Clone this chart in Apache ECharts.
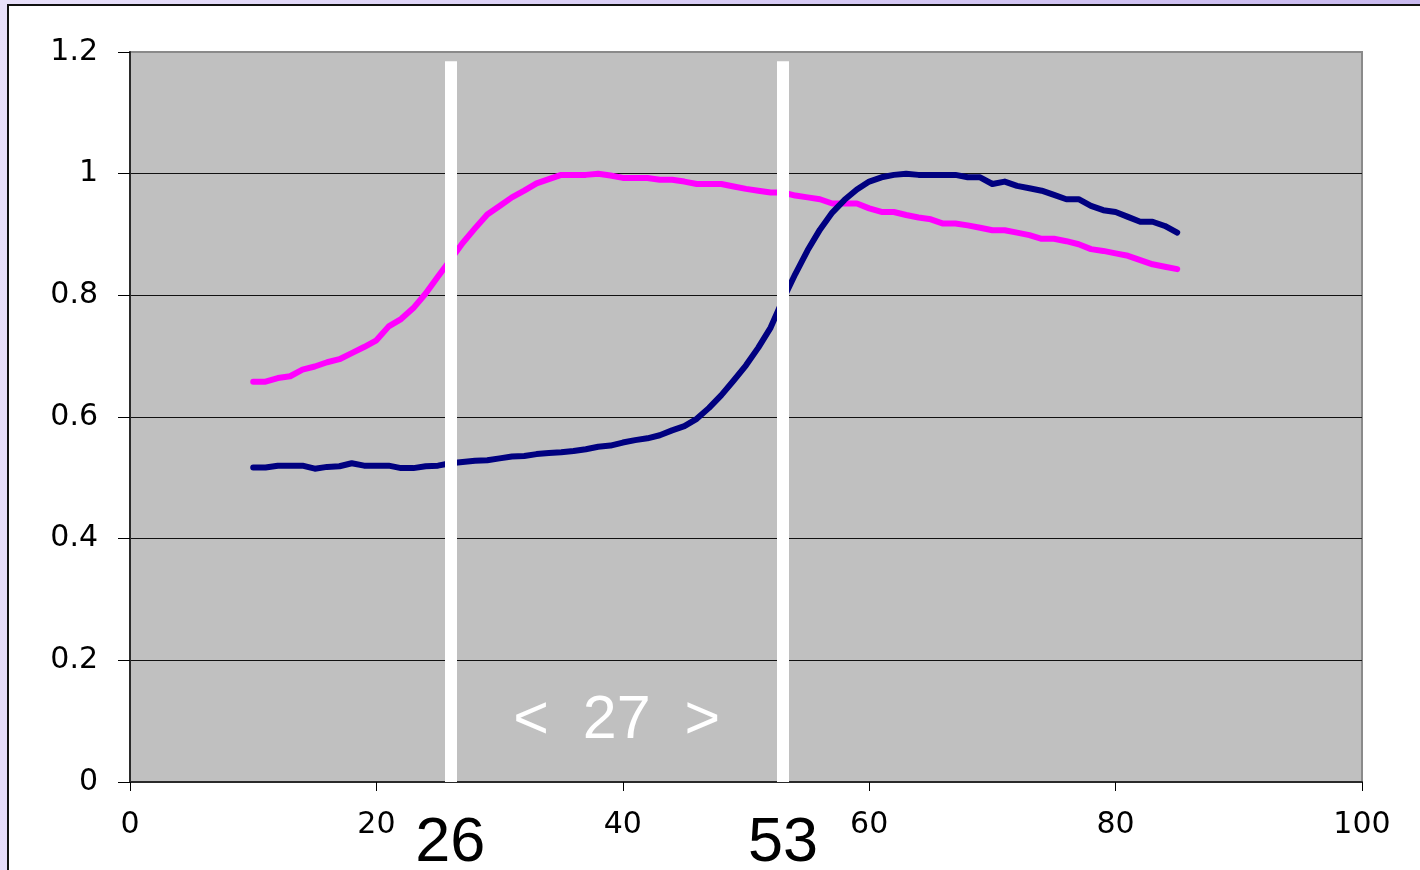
<!DOCTYPE html>
<html>
<head>
<meta charset="utf-8">
<script src="https://cdn.jsdelivr.net/npm/echarts@6/dist/echarts.min.js"></script>
<style>
  html, body { margin: 0; padding: 0; width: 1420px; height: 870px; overflow: hidden; }
  body { background: linear-gradient(100deg, #e8e0fa 0%, #d8ccf5 45%, #c6b5ee 100%); }
  #sheet { position: absolute; left: 7px; top: 4px; width: 1420px; height: 870px;
           background: #ffffff; border-left: 2px solid #111; border-top: 2px solid #111; }
  #chart { position: absolute; left: 0; top: 0; width: 1420px; height: 870px; }
</style>
</head>
<body>
<div id="sheet"></div>
<div id="chart"></div>
<script>
// Sample positions along the x axis
const positions = [
  10, 11, 12, 13, 14, 15, 16, 17, 18, 19,
  20, 21, 22, 23, 24, 25, 26, 27, 28, 29,
  30, 31, 32, 33, 34, 35, 36, 37, 38, 39,
  40, 41, 42, 43, 44, 45, 46, 47, 48, 49,
  50, 51, 52, 53, 54, 55, 56, 57, 58, 59,
  60, 61, 62, 63, 64, 65, 66, 67, 68, 69,
  70, 71, 72, 73, 74, 75, 76, 77, 78, 79,
  80, 81, 82, 83, 84, 85
];

// Magenta curve (rises first)
const magentaValues = [
  0.658, 0.658, 0.664, 0.667, 0.678, 0.683, 0.690, 0.695, 0.705, 0.715,
  0.726, 0.749, 0.761, 0.779, 0.803, 0.831, 0.858, 0.886, 0.910, 0.933,
  0.947, 0.961, 0.972, 0.984, 0.991, 0.998, 0.998, 0.998, 1.000, 0.997,
  0.993, 0.993, 0.993, 0.990, 0.990, 0.987, 0.983, 0.983, 0.983, 0.979,
  0.975, 0.972, 0.969, 0.969, 0.964, 0.961, 0.958, 0.951, 0.951, 0.951,
  0.943, 0.937, 0.937, 0.932, 0.928, 0.925, 0.918, 0.918, 0.915, 0.911,
  0.907, 0.907, 0.903, 0.899, 0.893, 0.893, 0.889, 0.884, 0.876, 0.873,
  0.869, 0.865, 0.858, 0.851, 0.847, 0.843
];

// Navy curve (rises later)
const navyValues = [
  0.517, 0.517, 0.520, 0.520, 0.520, 0.515, 0.518, 0.519, 0.524, 0.520,
  0.520, 0.520, 0.516, 0.516, 0.519, 0.520, 0.524, 0.526, 0.528, 0.529,
  0.532, 0.535, 0.536, 0.539, 0.541, 0.542, 0.544, 0.547, 0.551, 0.553,
  0.558, 0.562, 0.565, 0.570, 0.578, 0.585, 0.597, 0.615, 0.636, 0.660,
  0.685, 0.714, 0.747, 0.793, 0.835, 0.874, 0.908, 0.936, 0.957, 0.974,
  0.987, 0.994, 0.998, 1.000, 0.998, 0.998, 0.998, 0.998, 0.994, 0.994,
  0.983, 0.987, 0.980, 0.976, 0.972, 0.965, 0.958, 0.958, 0.947, 0.940,
  0.937, 0.929, 0.921, 0.921, 0.914, 0.903
];

// Positions of the two white marker lines and the gap between them
const markerPositions = [26, 53];
const markerTop = 1.185;
const gapLabelLevel = 0.1;

const yTickLabels = ['0', '0.2', '0.4', '0.6', '0.8', '1', '1.2'];

const pairs = (xs, ys) => xs.map((x, i) => [x, ys[i]]);

const chart = echarts.init(document.getElementById('chart'), null, { renderer: 'canvas' });

const tickFont = { fontFamily: 'DejaVu Sans', fontSize: 30, color: '#000' };

const option = {
  animation: false,
  backgroundColor: 'transparent',
  grid: {
    left: 130, right: 58, top: 52, bottom: 88,
    show: true,
    backgroundColor: '#c0c0c0',
    borderColor: '#8a8a8a',
    borderWidth: 2
  },
  xAxis: {
    type: 'value',
    min: 0, max: 100, interval: 20,
    axisLine: { show: true, lineStyle: { color: '#2a2a2a', width: 2 } },
    axisTick: { show: true, length: 9, lineStyle: { color: '#000', width: 1 } },
    axisLabel: Object.assign({ margin: 28 }, tickFont),
    splitLine: { show: false }
  },
  yAxis: {
    type: 'value',
    min: 0, max: 1.2, interval: 0.2,
    axisLine: { show: true, lineStyle: { color: '#2a2a2a', width: 2 } },
    axisTick: { show: true, length: 12, lineStyle: { color: '#000', width: 1 } },
    axisLabel: Object.assign({
      margin: 32,
      formatter: (v) => yTickLabels[Math.round(v / 0.2)]
    }, tickFont),
    splitLine: { show: true, showMaxLine: false, lineStyle: { color: '#111', width: 1 } }
  },
  series: [
    {
      name: 'magenta',
      type: 'line',
      data: pairs(positions, magentaValues),
      symbol: 'none',
      showSymbol: false,
      lineStyle: { color: '#ff00ff', width: 6, cap: 'round', join: 'round' },
      z: 3
    },
    {
      name: 'navy',
      type: 'line',
      data: pairs(positions, navyValues),
      symbol: 'none',
      showSymbol: false,
      lineStyle: { color: '#000080', width: 6, cap: 'round', join: 'round' },
      z: 4
    },
    {
      name: 'markers',
      type: 'line',
      data: [],
      z: 10,
      silent: true,
      markLine: {
        silent: true,
        symbol: ['none', 'none'],
        label: { show: false },
        lineStyle: { color: '#ffffff', width: 12, type: 'solid', opacity: 1 },
        data: markerPositions.map((p) => [{ coord: [p, 0] }, { coord: [p, markerTop] }])
      }
    }
  ]
};

chart.setOption(option);

// Marker value labels below the axis and the gap label between the markers
const labelFont = 'Liberation Sans';
const graphics = markerPositions.map((p) => {
  const pt = chart.convertToPixel({ gridIndex: 0 }, [p, 0]);
  return {
    type: 'text',
    x: pt[0],
    y: pt[1] + 62,
    z: 20,
    style: {
      text: String(p),
      fontFamily: labelFont,
      fontSize: 63,
      fill: '#000',
      align: 'center', verticalAlign: 'middle',
      textAlign: 'center', textVerticalAlign: 'middle'
    }
  };
});
const mid = (markerPositions[0] + markerPositions[1]) / 2;
const midPt = chart.convertToPixel({ gridIndex: 0 }, [mid, gapLabelLevel]);
graphics.push({
  type: 'text',
  x: midPt[0],
  y: midPt[1],
  z: 20,
  style: {
    text: '<  ' + (markerPositions[1] - markerPositions[0]) + '  >',
    fontFamily: labelFont,
    fontSize: 61,
    fill: '#ffffff',
    align: 'center', verticalAlign: 'middle',
    textAlign: 'center', textVerticalAlign: 'middle'
  }
});
chart.setOption({ graphic: { elements: graphics } });
</script>
</body>
</html>
